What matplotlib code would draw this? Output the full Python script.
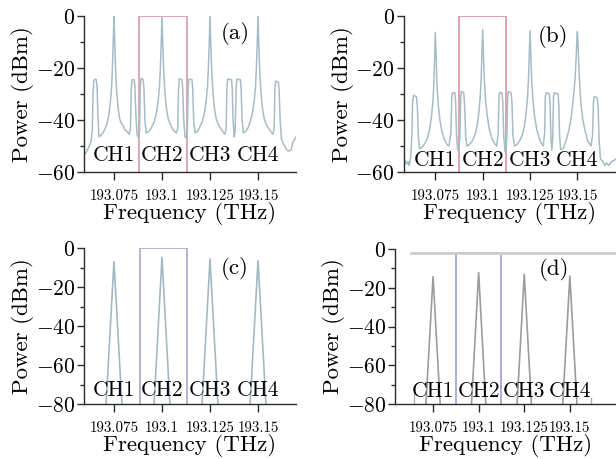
import numpy as np
import matplotlib
matplotlib.use('Agg')
import matplotlib.pyplot as plt

plt.rcParams['font.family'] = ['cmr10', 'DejaVu Serif']
plt.rcParams['mathtext.fontset'] = 'cm'
plt.rcParams['axes.unicode_minus'] = True

# channel centres (THz) and names
channels = [193.075, 193.1, 193.125, 193.15]
ch_names = ['CH1', 'CH2', 'CH3', 'CH4']
x_ticklabels = ['193.075', '193.1', '193.125', '193.15']

# (a) spectrum
a_freq = [193.0594, 193.0605, 193.0618, 193.0630, 193.0637, 193.0641, 193.0645, 193.0650, 193.0658, 193.0662,
          193.0666, 193.0672, 193.0680, 193.0692, 193.0703, 193.0713, 193.0722, 193.0730, 193.0737, 193.0741,
          193.0745, 193.0748, 193.0750, 193.0752, 193.0755, 193.0759, 193.0764, 193.0771, 193.0779, 193.0790,
          193.0797, 193.0805, 193.0818, 193.0830, 193.0836, 193.0840, 193.0844, 193.0855, 193.0859, 193.0864,
          193.0870, 193.0878, 193.0883, 193.0887, 193.0891, 193.0902, 193.0906, 193.0911, 193.0918, 193.0930,
          193.0945, 193.0960, 193.0972, 193.0981, 193.0987, 193.0991, 193.0995, 193.0998, 193.1000, 193.1002,
          193.1005, 193.1009, 193.1014, 193.1022, 193.1032, 193.1045, 193.1060, 193.1075, 193.1082, 193.1086,
          193.1090, 193.1104, 193.1108, 193.1113, 193.1120, 193.1127, 193.1132, 193.1136, 193.1140, 193.1156,
          193.1160, 193.1165, 193.1172, 193.1183, 193.1195, 193.1210, 193.1222, 193.1231, 193.1237, 193.1241,
          193.1245, 193.1248, 193.1250, 193.1252, 193.1255, 193.1259, 193.1264, 193.1272, 193.1282, 193.1295,
          193.1312, 193.1328, 193.1334, 193.1338, 193.1342, 193.1362, 193.1366, 193.1370, 193.1376, 193.1381,
          193.1386, 193.1390, 193.1408, 193.1412, 193.1417, 193.1424, 193.1435, 193.1448, 193.1460, 193.1472,
          193.1481, 193.1487, 193.1491, 193.1495, 193.1498, 193.1500, 193.1502, 193.1505, 193.1509, 193.1514,
          193.1522, 193.1532, 193.1545, 193.1562, 193.1578, 193.1584, 193.1588, 193.1592, 193.1606, 193.1610,
          193.1615, 193.1622, 193.1635, 193.1650, 193.1660, 193.1672, 193.1682, 193.1698]
a_pow = [-53.5, -52.5, -50.5, -48.5, -44, -30, -25, -24.3, -24.5, -27,
         -38, -46.5, -46, -45, -43.5, -41.5, -38.5, -34, -28, -22,
         -13, -5, 0, -5, -13, -22, -29, -35, -39.5, -41.5,
         -42, -43.5, -44.5, -45.5, -43, -28, -24.5, -24.5, -27, -38,
         -45.5, -47, -44, -27, -24, -24.5, -28, -40, -45, -44.5,
         -43, -40.5, -37, -32, -27, -21, -13, -5, 0, -5,
         -13, -21, -28, -35, -39.5, -42, -44, -45, -43, -28,
         -24.2, -24.5, -28, -40, -46.5, -47, -44, -28, -24.3, -24.5,
         -28, -40, -45, -44.5, -43, -40.5, -37, -32, -27, -21,
         -13, -5, 0, -5, -13, -21, -28, -35, -39.5, -42,
         -44, -45.5, -43, -28, -24.3, -24.5, -28, -40, -46.5, -44,
         -28, -24.3, -24.5, -28, -40, -45, -44.5, -43, -40.5, -37,
         -32, -27, -21, -13, -5, 0, -5, -13, -21, -28,
         -35, -39.5, -42, -44, -45.5, -43, -28, -25, -25.5, -29,
         -40, -47.5, -49.5, -51.5, -52, -51.5, -48.5, -46.5]

# (b) spectrum
b_freq = [193.0583, 193.0590, 193.0597, 193.0605, 193.0612, 193.0620, 193.0626, 193.0630, 193.0635, 193.0650,
          193.0655, 193.0660, 193.0666, 193.0680, 193.0695, 193.0708, 193.0720, 193.0730, 193.0737, 193.0742,
          193.0745, 193.0748, 193.0750, 193.0752, 193.0755, 193.0759, 193.0765, 193.0774, 193.0785, 193.0798,
          193.0812, 193.0822, 193.0832, 193.0837, 193.0841, 193.0853, 193.0857, 193.0862, 193.0868, 193.0874,
          193.0879, 193.0884, 193.0888, 193.0900, 193.0905, 193.0910, 193.0917, 193.0930, 193.0945, 193.0958,
          193.0970, 193.0980, 193.0987, 193.0992, 193.0995, 193.0998, 193.1000, 193.1002, 193.1005, 193.1009,
          193.1015, 193.1024, 193.1035, 193.1048, 193.1062, 193.1074, 193.1082, 193.1086, 193.1090, 193.1102,
          193.1106, 193.1111, 193.1118, 193.1124, 193.1128, 193.1132, 193.1136, 193.1150, 193.1155, 193.1160,
          193.1168, 193.1180, 193.1195, 193.1208, 193.1220, 193.1230, 193.1237, 193.1242, 193.1245, 193.1248,
          193.1250, 193.1252, 193.1255, 193.1259, 193.1265, 193.1274, 193.1285, 193.1298, 193.1310, 193.1320,
          193.1327, 193.1331, 193.1335, 193.1352, 193.1356, 193.1360, 193.1365, 193.1370, 193.1374, 193.1378,
          193.1398, 193.1402, 193.1406, 193.1412, 193.1425, 193.1440, 193.1455, 193.1467, 193.1477, 193.1487,
          193.1493, 193.1497, 193.1500, 193.1503, 193.1507, 193.1512, 193.1518, 193.1528, 193.1540, 193.1555,
          193.1572, 193.1580, 193.1585, 193.1590, 193.1605, 193.1610, 193.1615, 193.1622, 193.1635, 193.1645,
          193.1655, 193.1665, 193.1680, 193.1695, 193.1704]
b_pow = [-56.5, -55.5, -57, -56, -57.5, -54, -46, -33, -30.5, -31,
         -35, -46, -51, -50.5, -49, -47, -43.5, -38.5, -33, -26,
         -19, -11, -6.3, -11, -19, -27, -34, -40, -44.5, -47.5,
         -49.5, -50, -45, -31, -29.5, -29.5, -33, -46, -51.5, -52,
         -47, -31, -29, -29.5, -35, -46, -50, -49.5, -48, -46,
         -42.5, -37, -31, -24, -17, -10, -5.3, -10, -17, -25,
         -32, -38.5, -43.5, -47, -49, -50, -45, -31, -29.5, -29.5,
         -33, -46, -52, -52, -45, -30.5, -29, -29.5, -34, -46,
         -50, -49.5, -48, -46, -42.5, -37, -31, -24, -17, -10,
         -5.6, -10, -17, -25, -32, -38.5, -43.5, -47, -49, -50,
         -45, -31, -29.5, -30, -34, -46, -51.5, -47, -31, -29.5,
         -30, -34, -46, -51.5, -51, -48, -44, -39, -33, -25,
         -17, -10, -6, -10, -18, -26, -33, -39.5, -44, -48,
         -50, -46, -33, -31, -31.5, -36, -48, -55, -56, -57.5,
         -56.5, -57.5, -56, -55.5, -55]

# (c) filtered peaks: apex levels and half width at -85 dBm
c_peak = [-6.8, -4.6, -5.5, -6.3]
c_half = [0.0044, 0.0044, 0.0044, 0.0044]

# (d) filtered peaks, small stubs and flat reference line
d_peak = [-14.3, -12.2, -13.0, -14.0]
d_half = [0.0042, 0.0042, 0.0042, 0.0042]
d_stub_freq = [193.0646, 193.1614]
d_stub_top = [-74, -77]
d_flat_freq = [193.0631, 193.1753]
d_flat_pow = [-2.2, -2.2]

trace_col = '#a6bcc6'
spine_col = '#2b2b2b'

fig = plt.figure(figsize=(6.16, 4.59), dpi=100)

panels = [
    dict(rect=[0.1364, 0.6253, 0.3442, 0.3399], xlim=(193.0594, 193.1698), ylim=(-60, 0),
         tag='(a)', tagpos=(193.138, -6.7), chy=-53.5, box=(193.0882, 193.1129, 0), boxc='#d9a0ae'),
    dict(rect=[0.6554, 0.6253, 0.3446, 0.3399], xlim=(193.0583, 193.1704), ylim=(-60, 0),
         tag='(b)', tagpos=(193.1372, -8), chy=-55.6, box=(193.0876, 193.1123, 0), boxc='#dc9aa8'),
    dict(rect=[0.1364, 0.1198, 0.3442, 0.3392], xlim=(193.0594, 193.1698), ylim=(-80, 0),
         tag='(c)', tagpos=(193.138, -10.3), chy=-73.1, box=(193.0885, 193.1129, 0), boxc='#aeaed0'),
    dict(rect=[0.6417, 0.1198, 0.3583, 0.3377], xlim=(193.0543, 193.1753), ylim=(-80, 0),
         tag='(d)', tagpos=(193.1413, -10.8), chy=-73.3, box=(193.0874, 193.1121, -2.2), boxc='#a0a8d6'),
]

axes = []
for p in panels:
    ax = fig.add_axes(p['rect'])
    ax.set_xlim(*p['xlim'])
    ax.set_ylim(*p['ylim'])
    for s in ['top', 'right']:
        ax.spines[s].set_visible(False)
    for s in ['left', 'bottom']:
        ax.spines[s].set_color(spine_col)
        ax.spines[s].set_linewidth(1.0)
    ax.set_xticks(channels)
    ax.set_xticklabels(x_ticklabels, fontsize=10.8)
    lo = p['ylim'][0]
    majors = list(range(0, lo - 1, -20))
    ax.set_yticks(majors)
    ax.set_yticklabels(['$%d$' % v for v in majors], fontsize=15.5)
    ax.set_yticks(list(range(-10, lo, -20)), minor=True)
    ax.tick_params(axis='x', length=5.5, width=1.0, pad=7, color=spine_col)
    ax.tick_params(axis='y', which='major', length=5, width=1.0, pad=1.5, color=spine_col)
    ax.tick_params(axis='y', which='minor', length=3, width=1.0, color=spine_col)
    ax.set_xlabel('Frequency (THz)', fontsize=16.5, labelpad=-0.5)
    ax.set_ylabel('Power (dBm)', fontsize=16.5, labelpad=1)
    x0, x1, top = p['box']
    ax.plot([x0, x0, x1, x1], [lo, top, top, lo], color=p['boxc'], lw=1.3, zorder=1)
    for c, n in zip(channels, ch_names):
        ax.text(c, p['chy'], n, ha='center', va='center', fontsize=15.5, zorder=5)
    ax.text(p['tagpos'][0], p['tagpos'][1], p['tag'], ha='center', va='center', fontsize=16.5)
    axes.append(ax)

ax_a, ax_b, ax_c, ax_d = axes

ax_a.plot(a_freq, a_pow, color=trace_col, lw=1.1, zorder=2)
ax_b.plot(b_freq, b_pow, color=trace_col, lw=1.1, zorder=2)

for c, h, w in zip(channels, c_peak, c_half):
    ax_c.plot([c - w, c, c + w], [-85, h, -85], color='#a3b9c2', lw=1.2, zorder=2)

for c, h, w in zip(channels, d_peak, d_half):
    ax_d.plot([c - w, c, c + w], [-85, h, -85], color='#9c9c9c', lw=1.2, zorder=2)
for f, t in zip(d_stub_freq, d_stub_top):
    ax_d.plot([f, f], [t, -82], color='#b0b0b0', lw=1.0, zorder=2)
ax_d.plot(d_flat_freq, d_flat_pow, color='#cdcdcd', lw=2.0, zorder=1, clip_on=False)

fig.savefig('out.png', dpi=100)
